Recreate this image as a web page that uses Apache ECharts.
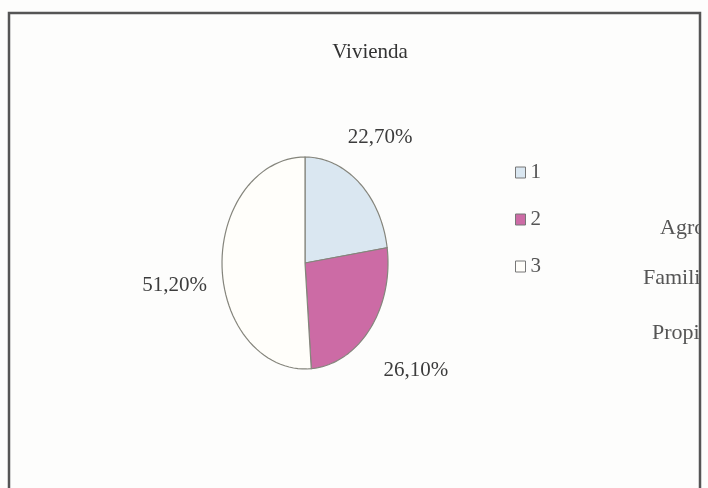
<!DOCTYPE html>
<html>
<head>
<meta charset="utf-8">
<script src="https://cdn.jsdelivr.net/npm/echarts@6/dist/echarts.min.js"></script>
<style>
  html, body { margin: 0; padding: 0; background: #fdfdfc; }
  #chart { width: 708px; height: 488px; }
</style>
</head>
<body>
<div id="chart"></div>
<script>
// datos
var categorias = ['1', '2', '3'];
var valores = [22.7, 26.1, 51.2];
var colores = ['#dae7f1', '#cc6ba5', '#fffefa'];
var textosDerecha = ['Agropecuaria', 'Familiar', 'Propia'];

var fuente = '"Liberation Serif", "DejaVu Serif", serif';

// geometria de la elipse
var cx = 305, cy = 263, rx = 83, ry = 106;

var total = valores.reduce(function (a, b) { return a + b; }, 0);
var acumulado = 0;
var series = categorias.map(function (nombre, i) {
    var inicio = acumulado;
    acumulado += valores[i];
    return {
        name: nombre,
        type: 'custom',
        coordinateSystem: 'none',
        itemStyle: { color: colores[i] },
        data: [[inicio, valores[i]]],
        renderItem: function (params, api) {
            var a0 = api.value(0) / total * Math.PI * 2;
            var a1 = (api.value(0) + api.value(1)) / total * Math.PI * 2;
            var pts = [[cx, cy]];
            var n = 60;
            for (var k = 0; k <= n; k++) {
                var t = a0 + (a1 - a0) * k / n;
                pts.push([cx + rx * Math.sin(t), cy - ry * Math.cos(t)]);
            }
            var am = (a0 + a1) / 2;
            var lx = cx + (rx + 48) * Math.sin(am) - 14 * Math.cos(am);
            var ly = cy - (ry + 62) * Math.cos(am) + 2;
            if (Math.sin(am) < 0) ly += 14; // etiquetas de la izquierda algo mas bajas
            return {
                type: 'group',
                children: [
                    {
                        type: 'polygon',
                        shape: { points: pts },
                        style: { fill: api.visual('color'), stroke: '#85857c', lineWidth: 1.2 }
                    },
                    {
                        type: 'text',
                        x: lx,
                        y: ly,
                        style: {
                            text: api.value(1).toFixed(2).replace('.', ',') + '%',
                            font: '21px ' + fuente,
                            fill: '#3c3c3c',
                            align: 'center',
                            verticalAlign: 'middle'
                        }
                    }
                ]
            };
        }
    };
});

var myChart = echarts.init(document.getElementById('chart'));
var option = {
    backgroundColor: '#fdfdfc',
    animation: false,
    title: {
        text: 'Vivienda',
        left: 365,
        top: 37,
        textAlign: 'center',
        textStyle: { fontFamily: fuente, fontWeight: 'normal', fontSize: 21, color: '#333' }
    },
    legend: {
        data: categorias,
        orient: 'vertical',
        left: 515,
        top: 162,
        padding: 0,
        icon: 'rect',
        itemWidth: 10,
        itemHeight: 11,
        itemGap: 26,
        itemStyle: { borderColor: '#777', borderWidth: 1 },
        textStyle: { fontFamily: fuente, fontSize: 21, color: '#555', lineHeight: 20 }
    },
    graphic: [
        {
            type: 'text', x: 660, y: 228, z: 1,
            style: { text: textosDerecha[0], font: '22px ' + fuente, fill: '#555', verticalAlign: 'middle' }
        },
        {
            type: 'text', x: 643, y: 278, z: 1,
            style: { text: textosDerecha[1], font: '22px ' + fuente, fill: '#555', verticalAlign: 'middle' }
        },
        {
            type: 'text', x: 652, y: 333, z: 1,
            style: { text: textosDerecha[2], font: '22px ' + fuente, fill: '#555', verticalAlign: 'middle' }
        },
        // tapa lo que se sale del marco
        {
            type: 'rect', x: 701, y: 0, z: 5,
            shape: { x: 0, y: 0, width: 10, height: 488 },
            style: { fill: '#fdfdfc' }
        },
        // marco
        {
            type: 'rect', x: 0, y: 0, z: 10,
            shape: { x: 9, y: 13, width: 691, height: 520 },
            style: { fill: 'none', stroke: '#555', lineWidth: 2.5 }
        }
    ],
    series: series
};
myChart.setOption(option);
</script>
</body>
</html>
